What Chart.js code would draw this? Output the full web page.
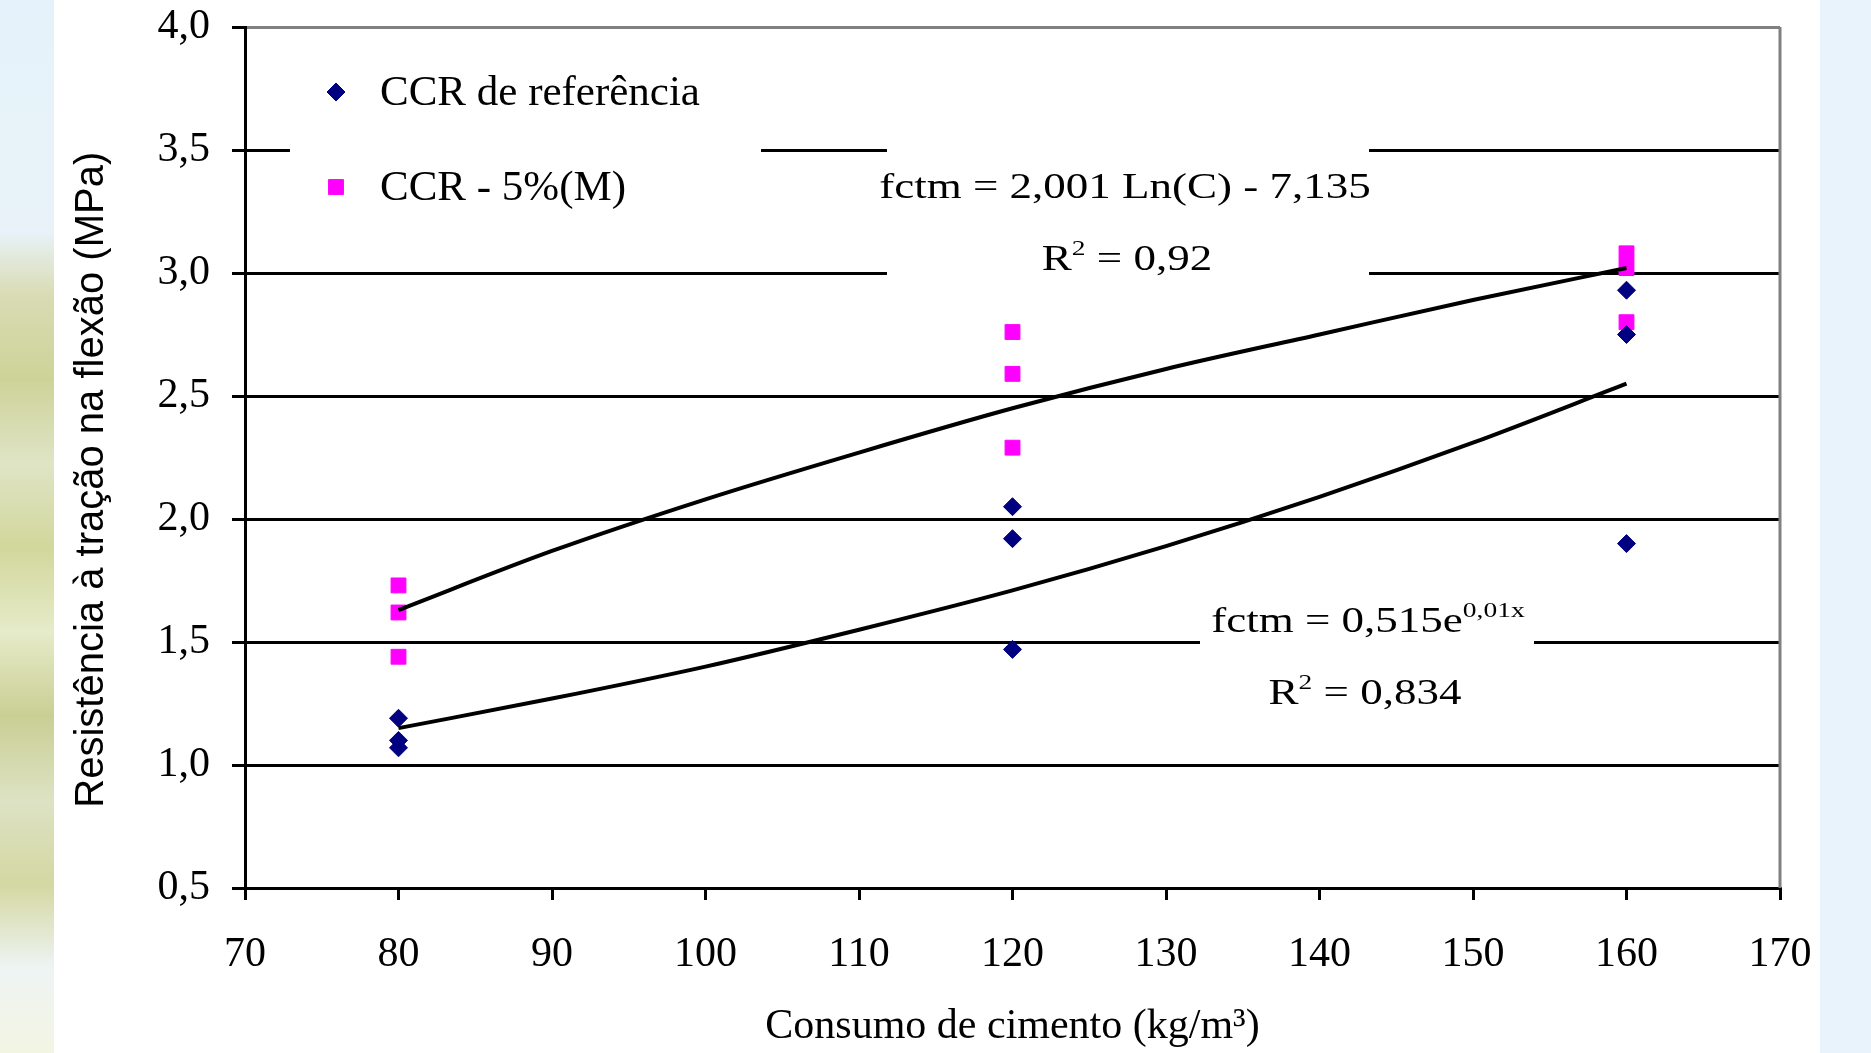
<!DOCTYPE html>
<html>
<head>
<meta charset="utf-8">
<script src="https://cdn.jsdelivr.net/npm/chart.js@4.4.1/dist/chart.umd.min.js"></script>
<style>
  html, body { margin: 0; padding: 0; width: 1871px; height: 1053px; overflow: hidden; background: #e9f3fc; }
  #leaf {
    position: absolute; left: 0; top: 0; width: 54px; height: 1053px;
    background: linear-gradient(180deg, #e6f2fb 0%, #e8f2f8 22%, #d9dcb4 28%, #cdd398 36%, #dfe4c6 44%,
      #d2d79c 52%, #e6ebc9 60%, #c9cf94 68%, #dde2c4 76%, #d4d8a2 84%, #eef4f4 92%, #f3f5e2 100%);
  }
  #panel { position: absolute; left: 54px; top: 0; width: 1766px; height: 1053px; background: #fff; }
  #wrap { position: absolute; left: 0; top: 0; width: 1871px; height: 1053px; }
</style>
</head>
<body>
<div id="leaf"></div>
<div id="panel"></div>
<div id="wrap"><canvas id="chart1"></canvas></div>
<script>
var refX = [80, 80, 80, 120, 120, 120, 160, 160, 160];
var refY = [1.19, 1.10, 1.07, 2.05, 1.92, 1.47, 2.93, 2.75, 1.90];
var modX = [80, 80, 80, 120, 120, 120, 160, 160, 160];
var modY = [1.73, 1.62, 1.44, 2.76, 2.59, 2.29, 3.08, 3.02, 2.80];
var trendX = [80, 90, 100, 110, 120, 130, 140, 150, 160];
var logTrendY = [1.63, 1.87, 2.08, 2.27, 2.45, 2.61, 2.75, 2.89, 3.02];
var expTrendY = [1.15, 1.27, 1.40, 1.55, 1.71, 1.89, 2.09, 2.31, 2.55];
var seriesNames = ["CCR de referência", "CCR - 5%(M)"];
var xTicks = [70, 80, 90, 100, 110, 120, 130, 140, 150, 160, 170];
var yTicks = [0.5, 1.0, 1.5, 2.0, 2.5, 3.0, 3.5, 4.0];

var serif = '"Liberation Serif", "Times New Roman", serif';

function toPoints(xs, ys) {
    return xs.map(function (x, i) { return { x: x, y: ys[i] }; });
}

// draws one line of equation text, stretched wide like the original bitmap
function drawEq(ctx, parts, cx, baseline) {
    var stretch = 1.25;
    var w = 0;
    parts.forEach(function (p) {
        ctx.font = (p.sup ? "22px " : "36px ") + serif;
        p.w = ctx.measureText(p.t).width;
        w += p.w;
    });
    ctx.save();
    ctx.translate(cx - (w * stretch) / 2, baseline);
    ctx.scale(stretch, 1);
    var x = 0;
    parts.forEach(function (p) {
        ctx.font = (p.sup ? "22px " : "36px ") + serif;
        ctx.fillText(p.t, x, p.sup ? -15 : 0);
        x += p.w;
    });
    ctx.restore();
}

var labelsPlugin = {
    id: "labels",
    beforeDatasetsDraw: function (chart) {
        var ctx = chart.ctx;
        var area = chart.chartArea;
        ctx.save();
        // right border of plot
        ctx.strokeStyle = "#808080";
        ctx.lineWidth = 3;
        ctx.beginPath();
        ctx.moveTo(area.right, area.top);
        ctx.lineTo(area.right, area.bottom);
        ctx.stroke();

        // white boxes behind legend and equations
        ctx.fillStyle = "#fff";
        ctx.fillRect(290, 40, 471, 200);
        ctx.fillRect(887, 140, 482, 148);
        ctx.fillRect(1200, 585, 334, 140);

        // legend
        var ds = chart.data.datasets;
        var items = [ds[2], ds[3]];
        items.forEach(function (d, i) {
            var y = i === 0 ? 92 : 187;
            ctx.fillStyle = d.backgroundColor;
            ctx.strokeStyle = d.borderColor;
            ctx.lineWidth = 1;
            Chart.helpers.drawPoint(ctx, { pointStyle: d.pointStyle, radius: d.pointRadius, rotation: 0, borderWidth: 1 }, 336, y);
            ctx.fillStyle = "#000";
            ctx.font = "43px " + serif;
            ctx.textBaseline = "middle";
            ctx.textAlign = "left";
            ctx.fillText(d.label, 380, y + 2);
        });

        // trendline equations
        ctx.fillStyle = "#000";
        ctx.textBaseline = "alphabetic";
        ctx.textAlign = "left";
        drawEq(ctx, [{ t: "fctm = 2,001 Ln(C) - 7,135" }], 1125, 198);
        drawEq(ctx, [{ t: "R" }, { t: "2", sup: true }, { t: " = 0,92" }], 1127, 270);
        drawEq(ctx, [{ t: "fctm = 0,515e" }, { t: "0,01x", sup: true }], 1368, 632);
        drawEq(ctx, [{ t: "R" }, { t: "2", sup: true }, { t: " = 0,834" }], 1365, 704);
        ctx.restore();
    }
};

var ctx = document.getElementById("chart1").getContext("2d");
var myChart = new Chart(ctx, {
    type: "scatter",
    data: {
        datasets: [
            {
                label: "log",
                data: toPoints(trendX, logTrendY),
                showLine: true,
                borderColor: "#000",
                borderWidth: 4,
                pointRadius: 0,
                cubicInterpolationMode: "monotone",
                order: 0,
            },
            {
                label: "exp",
                data: toPoints(trendX, expTrendY),
                showLine: true,
                borderColor: "#000",
                borderWidth: 4,
                pointRadius: 0,
                cubicInterpolationMode: "monotone",
                order: 0,
            },
            {
                label: seriesNames[0],
                data: toPoints(refX, refY),
                pointStyle: "rectRot",
                pointRadius: 9,
                backgroundColor: "#000080",
                borderColor: "#000080",
                borderWidth: 1,
                order: 1,
            },
            {
                label: seriesNames[1],
                data: toPoints(modX, modY),
                pointStyle: "rect",
                pointRadius: 10.5,
                backgroundColor: "#ff00ff",
                borderColor: "#ff00ff",
                borderWidth: 1,
                order: 2,
            },
        ],
    },
    options: {
        responsive: true,
        maintainAspectRatio: false,
        animation: false,
        layout: { padding: { left: 54, right: 91, top: 27, bottom: 0 } },
        plugins: {
            legend: { display: false },
            tooltip: { enabled: false },
        },
        scales: {
            x: {
                type: "linear",
                min: xTicks[0],
                max: xTicks[xTicks.length - 1],
                afterFit: function (scale) { scale.height = 165; },
                afterBuildTicks: function (scale) {
                    scale.ticks = xTicks.map(function (v) { return { value: v }; });
                },
                grid: { drawOnChartArea: false, color: "#000", tickLength: 12, lineWidth: 3 },
                border: { color: "#000", width: 3 },
                ticks: {
                    color: "#000",
                    font: { family: serif, size: 42 },
                    padding: 30,
                    maxRotation: 0,
                },
                title: {
                    display: true,
                    text: "Consumo de cimento (kg/m³)",
                    color: "#000",
                    font: { family: serif, size: 42 },
                    padding: { top: 0, bottom: 1 },
                },
            },
            y: {
                type: "linear",
                min: yTicks[0],
                max: yTicks[yTicks.length - 1],
                afterFit: function (scale) { scale.width = 191; },
                afterBuildTicks: function (scale) {
                    scale.ticks = yTicks.map(function (v) { return { value: v }; });
                },
                grid: {
                    color: function (c) { return c.tick && c.tick.value === 4 ? "#808080" : "#000"; },
                    tickColor: "#000",
                    tickLength: 13,
                    lineWidth: 3,
                },
                border: { color: "#000", width: 3 },
                ticks: {
                    color: "#000",
                    font: { family: serif, size: 42, lineHeight: 0.2 },
                    padding: 22,
                    callback: function (v) { return v.toFixed(1).replace(".", ","); },
                },
                title: {
                    display: true,
                    text: "Resistência à tração na flexão (MPa)\u00a0\u00a0\u00a0\u00a0",
                    color: "#000",
                    font: { family: '"Liberation Sans", Arial, sans-serif', size: 40 },
                    padding: { top: 14, bottom: 0 },
                },
            },
        },
    },
    plugins: [labelsPlugin],
});
</script>
</body>
</html>
